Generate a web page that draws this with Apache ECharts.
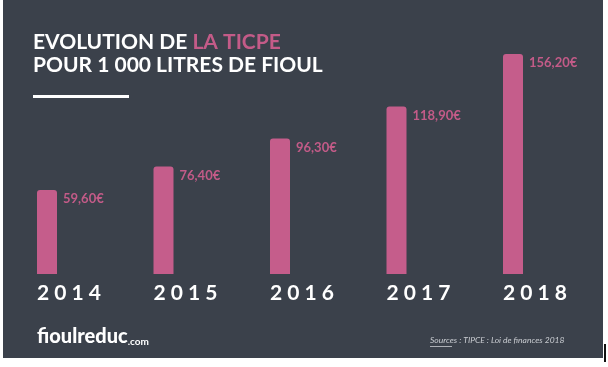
<!DOCTYPE html>
<html><head><meta charset="utf-8">
<script src="https://cdn.jsdelivr.net/npm/echarts@6/dist/echarts.min.js"></script>
<style>html,body{margin:0;padding:0;background:#fff}#c{width:608px;height:367px}</style>
</head><body><div id="c"></div>
<script>
const years = ['2014', '2015', '2016', '2017', '2018'];
const values = [59.6, 76.4, 96.3, 118.9, 156.2];
const valueLabels = ['59,60€', '76,40€', '96,30€', '118,90€', '156,20€'];
const titleLine1 = ['EVOLUTION DE ', 'LA TICPE'];
const titleLine2 = 'POUR 1 000 LITRES DE FIOUL';
const sourceText = ['Sources', ' : TIPCE : Loi de finances 2018'];

const BG = '#3b414b', PINK = '#c55d8b', LABEL = '#c35b88';
const chart = echarts.init(document.getElementById('c'), null, {renderer: 'canvas'});
chart.setOption({
  backgroundColor: 'transparent',
  animation: false,
  graphic: [
    {type: 'rect', z: -10, shape: {x: 3, y: 0, width: 600, height: 358}, style: {fill: BG}},
    {type: 'rect', shape: {x: 604, y: 344, width: 2, height: 18}, style: {fill: '#111'}},
    {type: 'text', left: 33, top: 32, style: {
      text: '{a|' + titleLine1[0] + '}{b|' + titleLine1[1] + '}\n{a|' + titleLine2 + '}',
      rich: {
        a: {fill: '#ffffff', font: 'bold 21px Lato', lineHeight: 23},
        b: {fill: '#c35b88', font: 'bold 21px Lato', lineHeight: 23}
      }}},
    {type: 'rect', shape: {x: 33, y: 95, width: 96, height: 3}, style: {fill: '#ffffff'}},
    {type: 'text', left: 37, top: 327, style: {
      text: '{a|fioulreduc}{b|.com}',
      rich: {
        a: {fill: '#ffffff', font: '900 20px Lato', verticalAlign: 'bottom'},
        b: {fill: '#ffffff', font: 'bold 10px Lato', verticalAlign: 'bottom'}
      }}},
    {type: 'text', left: 430, top: 336, style: {
      text: sourceText[0] + sourceText[1], fill: '#c9ccd1', font: 'italic 8.5px Lato'}},
    {type: 'rect', shape: {x: 430, y: 346, width: 22, height: 0.8}, style: {fill: '#c9ccd1'}}
  ],
  grid: {left: 47, right: 95, top: 274 - 160 * 1.408, bottom: 93, containLabel: false},
  xAxis: {
    type: 'category', data: years, boundaryGap: false,
    axisLine: {show: false}, axisTick: {show: false}, splitLine: {show: false},
    axisLabel: {
      interval: 0, margin: 9, align: 'left', padding: [0, 0, 0, -10],
      color: '#ffffff', fontFamily: 'Lato', fontWeight: 'bold', fontSize: 21,
      formatter: v => v.split('').join(' ')
    }
  },
  yAxis: {type: 'value', min: 0, max: 160, show: false, splitLine: {show: false}},
  series: [{
    type: 'bar', data: values, barWidth: 20,
    itemStyle: {color: PINK, borderRadius: [3, 3, 0, 0]},
    label: {
      show: true, position: [26, 9], align: 'left', verticalAlign: 'middle',
      color: LABEL, fontFamily: 'Lato', fontWeight: 'bold', fontSize: 13,
      formatter: p => valueLabels[p.dataIndex]
    }
  }]
});
</script></body></html>
